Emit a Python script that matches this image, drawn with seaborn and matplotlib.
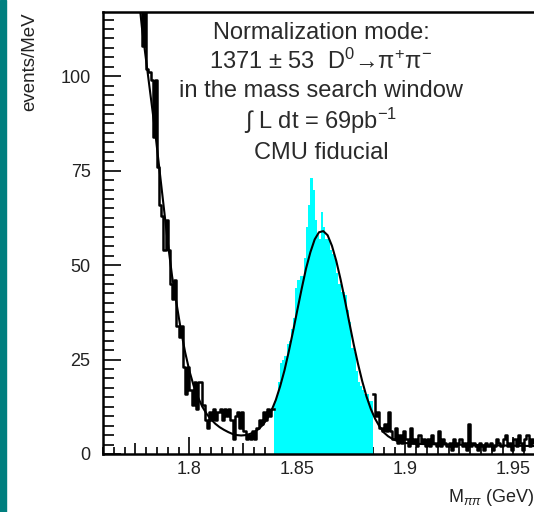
import numpy as np
import pandas as pd
import matplotlib
matplotlib.use('Agg')
import matplotlib.pyplot as plt
import seaborn as sns
from matplotlib.patches import Rectangle
from matplotlib.ticker import MultipleLocator, FixedLocator, FuncFormatter

# events per 1 MeV bin, sidebands (black) and mass window (cyan)
bin_width = 0.001
left_start = 1.760
left_counts = [300, 280, 265, 250, 235, 220, 205, 195, 185, 175, 165, 157, 150, 143, 136, 130, 124,
               119, 108, 119, 102, 101, 99, 84, 99, 76, 66, 63, 54, 62,
               54, 45, 41, 46, 34, 31, 34, 23, 16, 23,
               17, 13, 19, 12, 19, 19, 13, 9, 7, 11,
               9, 12, 9, 11, 12, 9, 12, 10, 12, 9,
               4, 10, 11, 7, 11, 6, 4, 5, 4, 6,
               4, 7, 9, 8, 11, 9, 12, 10, 12]

window_start = 1.839
window_counts = [14, 15, 19, 24, 25, 26, 29, 30, 33, 36,
                 44, 46, 47, 47, 52, 60, 66, 73, 70, 62,
                 58, 57, 64, 60, 57, 57, 54, 53, 52, 48,
                 45, 43, 43, 42, 38, 35, 28, 27, 22, 19,
                 18, 17, 16, 16, 14, 14]

right_start = 1.885
right_counts = [16, 10, 11, 7, 6, 8, 6, 11, 6, 4,
                7, 3, 5, 3, 6, 4, 2, 7, 3, 4,
                2, 5, 3, 4, 2, 4, 2, 5, 3, 2,
                6, 2, 4, 3, 2, 3, 1, 4, 2, 3,
                4, 2, 3, 1, 8, 2, 3, 2, 1, 3,
                2, 1, 3, 2, 3, 1, 2, 4, 3, 2,
                4, 5, 2, 3, 1, 4, 2, 5, 3, 1,
                4, 5, 2, 4, 3]

# fitted curve (background + gaussian)
fit_x = [1.776, 1.778, 1.780, 1.782, 1.784, 1.786, 1.788, 1.790, 1.792, 1.794,
         1.796, 1.798, 1.800, 1.802, 1.804, 1.806, 1.808, 1.810, 1.812, 1.814,
         1.816, 1.818, 1.820, 1.822, 1.824, 1.826, 1.828, 1.830, 1.832, 1.834,
         1.836, 1.838, 1.840, 1.842, 1.844, 1.846, 1.848, 1.850, 1.852, 1.854,
         1.856, 1.858, 1.860, 1.862, 1.864, 1.866, 1.868, 1.870, 1.872, 1.874,
         1.876, 1.878, 1.880, 1.882, 1.884, 1.886, 1.888, 1.890, 1.892, 1.894,
         1.896, 1.898, 1.900, 1.905, 1.910, 1.920, 1.930, 1.940, 1.950, 1.960]
fit_y = [124, 113, 104, 95, 86, 76, 66, 56, 47, 40,
         33, 27, 22, 18, 15, 12.5, 10.6, 9.2, 8.0, 7.1,
         6.4, 5.8, 5.3, 5.0, 4.9, 5.0, 5.3, 5.8, 6.6, 7.7,
         9.3, 11.5, 14.3, 17.9, 22.1, 27.1, 32.5, 38.2, 43.8, 49.1,
         53.4, 56.8, 58.7, 59.0, 57.9, 55.1, 51.1, 46.2, 40.7, 34.9,
         29.2, 24.0, 19.3, 15.2, 11.9, 9.3, 7.3, 5.7, 4.7, 4.0,
         3.5, 3.1, 2.9, 2.7, 2.6, 2.5, 2.4, 2.3, 2.2, 2.1]

y_ticks = [0, 25, 50, 75, 100]
x_ticks = [1.775, 1.8, 1.825, 1.85, 1.875, 1.9, 1.925, 1.95]
x_labelled = [1.8, 1.85, 1.9, 1.95]

text_lines = ['Normalization mode:',
              '1371 ± 53  D$^{0}$→π$^{+}$π$^{-}$',
              'in the mass search window',
              '∫ L dt = 69pb$^{-1}$',
              'CMU fiducial']


def hist_frame(start, counts):
    edges = start + bin_width * np.arange(len(counts) + 1)
    centers = edges[:-1] + bin_width / 2
    return pd.DataFrame({'m': centers, 'n': counts}), [float(e) for e in edges]


def x_label_fmt(v, pos):
    if any(abs(v - t) < 1e-6 for t in x_labelled):
        return '%g' % v
    return ''


plt.rcParams['font.family'] = ['Liberation Sans', 'DejaVu Sans']
plt.rcParams['mathtext.fontset'] = 'custom'
plt.rcParams['mathtext.rm'] = 'Liberation Sans'
plt.rcParams['mathtext.it'] = 'Liberation Sans:italic'
# ROOT-like inward ticks
plt.rcParams.update({
    'xtick.direction': 'in', 'ytick.direction': 'in',
    'xtick.major.size': 8, 'xtick.minor.size': 5,
    'ytick.major.size': 13, 'ytick.minor.size': 8,
    'xtick.major.width': 1.2, 'xtick.minor.width': 1.2,
    'ytick.major.width': 1.2, 'ytick.minor.width': 1.2,
})

fig = plt.figure(figsize=(5.34, 5.12), dpi=100)
fig.patch.set_facecolor('white')
fig.patches.append(Rectangle((0, 0), 6 / 534, 1, transform=fig.transFigure,
                             color='#007f7f', zorder=0))
ax = fig.add_axes([103 / 534, 58 / 512, 432 / 534, 442 / 512])

df_left, e_left = hist_frame(left_start, left_counts)
df_win, e_win = hist_frame(window_start, window_counts)
df_right, e_right = hist_frame(right_start, right_counts)

sns.histplot(data=df_win, x='m', weights='n', bins=e_win, element='step',
             fill=True, color='#00ffff', alpha=1, linewidth=0, ax=ax, zorder=2)
sns.histplot(data=df_left, x='m', weights='n', bins=e_left, element='step',
             fill=False, color='black', linewidth=1.8, ax=ax, zorder=3)
sns.histplot(data=df_right, x='m', weights='n', bins=e_right, element='step',
             fill=False, color='black', linewidth=1.8, ax=ax, zorder=3)
sns.lineplot(x=fit_x, y=fit_y, color='black', linewidth=1.5, ax=ax, zorder=4)

ax.set_xlim(1.76, 1.96)
ax.set_ylim(0, 117)
ax.set_xlabel('')
ax.set_ylabel('')

ax.yaxis.set_major_locator(FixedLocator(y_ticks))
ax.yaxis.set_minor_locator(MultipleLocator(2.5))
ax.xaxis.set_major_locator(FixedLocator(x_ticks))
ax.xaxis.set_minor_locator(MultipleLocator(0.005))
ax.xaxis.set_major_formatter(FuncFormatter(x_label_fmt))
ax.yaxis.set_ticks_position('left')
ax.xaxis.set_ticks_position('bottom')
ax.tick_params(axis='both', which='both', direction='in', color='black')
ax.tick_params(axis='both', which='major', labelcolor='#222222', labelsize=13)
ax.tick_params(axis='y', which='major', length=13, pad=9)
ax.tick_params(axis='y', which='minor', length=8)
ax.tick_params(axis='x', which='major', length=8, pad=5)
ax.tick_params(axis='x', which='minor', length=5)

fig.canvas.draw()
# labelled x ticks are longer than the 0.025 ones
for tick in ax.xaxis.get_major_ticks():
    if any(abs(tick.get_loc() - t) < 1e-6 for t in x_labelled):
        tick.tick1line.set_markersize(12)

for side in ['left', 'bottom', 'top', 'right']:
    ax.spines[side].set_color('black')
    ax.spines[side].set_linewidth(1.8)

ys = [33, 61, 91, 121, 153]
for line, yp in zip(text_lines, ys):
    fig.text(321 / 534, 1 - yp / 512, line, ha='center', va='center',
             fontsize=17, color='#2a2a2a')

fig.text(30 / 534, 1 - 12 / 512, 'events/MeV', rotation=90, ha='center',
         va='top', fontsize=13.5, color='#222222')
fig.text(534 / 534, 1 - 498 / 512, r'M$_{\pi\pi}$ (GeV)', ha='right',
         va='center', fontsize=13, color='#222222')

fig.savefig('out.png', dpi=100)
